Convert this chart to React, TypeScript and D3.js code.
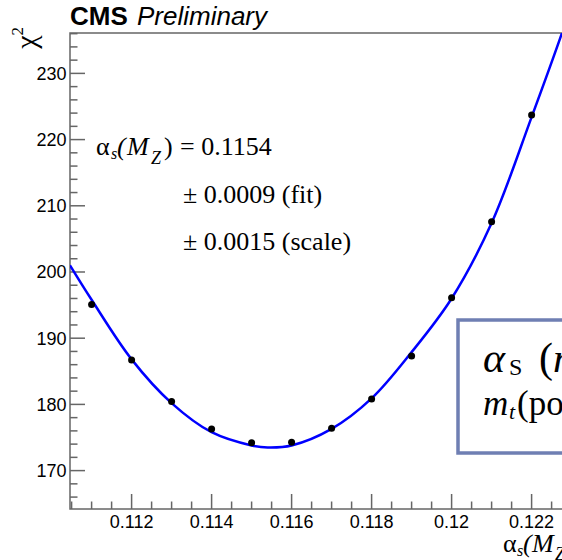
import React from 'react';
import * as d3 from 'd3';

// ---- data ----
const alphaValues = [0.111, 0.112, 0.113, 0.114, 0.115, 0.116, 0.117, 0.118, 0.119, 0.12, 0.121, 0.122];
const chi2Values = [195.1, 186.7, 180.45, 176.3, 174.2, 174.3, 176.4, 180.8, 187.3, 196.1, 207.6, 223.7];

const fitAlpha = [0.11046, 0.111, 0.112, 0.113, 0.114, 0.115, 0.1154, 0.116, 0.117, 0.118, 0.119, 0.12, 0.121, 0.122, 0.12276, 0.1232];
const fitChi2 = [201.0, 195.8, 186.8, 180.2, 175.8, 173.8, 173.5, 173.8, 176.3, 180.9, 187.9, 196.0, 207.4, 223.4, 236.1, 244.0];

const xMajorTicks = [0.112, 0.114, 0.116, 0.118, 0.12, 0.122];
const xTickLabels = ['0.112', '0.114', '0.116', '0.118', '0.12', '0.122'];
const yMajorTicks = [170, 180, 190, 200, 210, 220, 230];
const yTickLabels = ['170', '180', '190', '200', '210', '220', '230'];

const fitCentral = '0.1154';
const fitError = '0.0009';
const scaleError = '0.0015';

const W = 562;
const H = 560;
const left = 70;
const top = 33;
const bottom = 509;
const xDomain: [number, number] = [0.11046, 0.1235];
const yDomain: [number, number] = [164.2, 236.1];

const SANS = '"Liberation Sans", Arial, Helvetica, sans-serif';
const SERIF = '"Liberation Serif", "Times New Roman", serif';
const AXIS = '#666666';

export default function App() {
  const x = d3.scaleLinear().domain(xDomain).range([left, left + (xDomain[1] - xDomain[0]) * 40000]);
  const y = d3.scaleLinear().domain(yDomain).range([bottom, top]);
  const right = x(xDomain[1]);

  const xMinor = d3.range(0.1105, 0.1235, 0.0005).filter(
    (v) => !xMajorTicks.some((m) => Math.abs(m - v) < 1e-7)
  );
  const yMinor = d3.range(166, 236.1, 2).filter((v) => v % 10 !== 0);

  const line = d3
    .line<number>()
    .x((_, i) => x(fitAlpha[i]))
    .y((d) => y(d))
    .curve(d3.curveCatmullRom.alpha(0.5));

  const fitPath = line(fitChi2) || '';

  return (
    <svg
      width={W}
      height={H}
      style={{ position: 'absolute', left: 0, top: 0, background: '#fff' }}
    >
      <defs>
        <clipPath id="plotclip">
          <rect x={left} y={top} width={right - left} height={bottom - top} />
        </clipPath>
      </defs>
      <rect x={0} y={0} width={W} height={H} fill="#fff" />

      {/* CMS label */}
      <text x={70} y={25} fontFamily={SANS} fontSize={26} fill="#000">
        <tspan fontWeight="bold">CMS</tspan>
        <tspan x={137} fontStyle="italic">Preliminary</tspan>
      </text>

      {/* frame */}
      <rect x={left} y={top} width={right - left} height={bottom - top} fill="none" stroke={AXIS} strokeWidth={1.5} />

      {/* y ticks */}
      {yMajorTicks.map((v, i) => (
        <g key={'ym' + v}>
          <line x1={left} x2={left + 15} y1={y(v)} y2={y(v)} stroke={AXIS} strokeWidth={1.5} />
          <text x={66.5} y={y(v)} dy="0.36em" textAnchor="end" fontFamily={SANS} fontSize={18} fill="#000">
            {yTickLabels[i]}
          </text>
        </g>
      ))}
      {yMinor.map((v) => (
        <line key={'yn' + v} x1={left} x2={left + 7.5} y1={y(v)} y2={y(v)} stroke={AXIS} strokeWidth={1.5} />
      ))}

      {/* x ticks */}
      {xMajorTicks.map((v, i) => (
        <g key={'xm' + v}>
          <line x1={x(v)} x2={x(v)} y1={bottom} y2={bottom - 15} stroke={AXIS} strokeWidth={1.5} />
          <text x={x(v)} y={528} textAnchor="middle" fontFamily={SANS} fontSize={18} fill="#000">
            {xTickLabels[i]}
          </text>
        </g>
      ))}
      {xMinor.map((v) => (
        <line key={'xn' + v} x1={x(v)} x2={x(v)} y1={bottom} y2={bottom - 7.5} stroke={AXIS} strokeWidth={1.5} />
      ))}

      {/* y title chi^2 */}
      <text
        transform={`translate(36,27) rotate(-90)`}
        textAnchor="end"
        fontFamily={SERIF}
        fontSize={30}
        fill="#000"
      >
        χ<tspan fontSize={17} dy={-13}>2</tspan>
      </text>

      {/* x title */}
      <text y={552} fontFamily={SERIF} fontSize={26} fill="#000">
        <tspan x={503}>α</tspan>
        <tspan x={517} fontSize={16} fontStyle="italic" dy={4}>s</tspan>
        <tspan x={523} dy={-4} fontStyle="italic">(</tspan>
        <tspan x={532} fontStyle="italic">M</tspan>
        <tspan x={555} fontSize={18} fontStyle="italic" dy={8}>Z</tspan>
        <tspan x={568} dy={-8}>)</tspan>
      </text>

      {/* fit curve */}
      <path d={fitPath} fill="none" stroke="#0000ff" strokeWidth={2.5} clipPath="url(#plotclip)" />

      {/* points */}
      {alphaValues.map((a, i) => (
        <circle key={'p' + a} cx={x(a)} cy={y(chi2Values[i])} r={3.5} fill="#000" />
      ))}

      {/* fit result annotation */}
      <text y={155} fontFamily={SERIF} fontSize={26} fill="#000">
        <tspan x={96}>α</tspan>
        <tspan x={111} fontSize={16} fontStyle="italic" dy={4}>s</tspan>
        <tspan x={117} dy={-4} fontStyle="italic">(</tspan>
        <tspan x={127} fontStyle="italic">M</tspan>
        <tspan x={151} fontSize={18} fontStyle="italic" dy={9}>Z</tspan>
        <tspan x={164} dy={-9}>)</tspan>
        <tspan x={180}>= {fitCentral}</tspan>
      </text>
      <text x={183} y={203} fontFamily={SERIF} fontSize={26} fill="#000">
        ± {fitError} (fit)
      </text>
      <text x={183} y={250} fontFamily={SERIF} fontSize={26} fill="#000">
        ± {scaleError} (scale)
      </text>

      {/* overlay box */}
      <rect x={458} y={320} width={200} height={133} fill="#fff" stroke="#6f7fb3" strokeWidth={3.5} />
      <text y={372} fontFamily={SERIF} fontSize={42} fill="#000">
        <tspan x={483} fontStyle="italic">α</tspan>
        <tspan x={509} fontSize={24} dy={3}>S</tspan>
        <tspan x={539} dy={-3}>(</tspan>
        <tspan x={553} fontStyle="italic">m</tspan>
        <tspan fontSize={22} fontStyle="italic" dy={4}>Z</tspan>
        <tspan dy={-4}>)</tspan>
      </text>
      <text y={415} fontFamily={SERIF} fontSize={35} fill="#000">
        <tspan x={483} fontStyle="italic">m</tspan>
        <tspan x={509} fontSize={22} fontStyle="italic" dy={4}>t</tspan>
        <tspan x={517} dy={-4}>(pole)</tspan>
      </text>
    </svg>
  );
}
